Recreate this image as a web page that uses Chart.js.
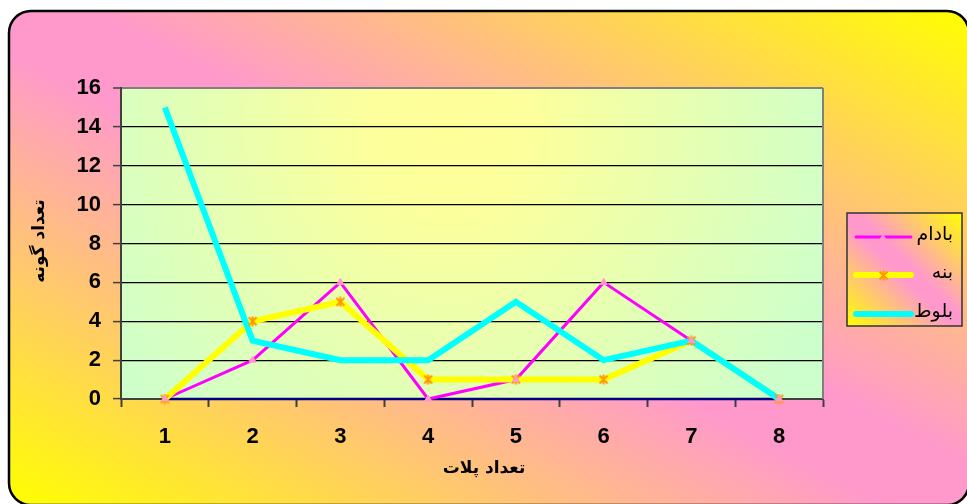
<!DOCTYPE html>
<html>
<head>
<meta charset="utf-8">
<script src="https://cdn.jsdelivr.net/npm/chart.js@4.4.1/dist/chart.umd.min.js"></script>
<style>
  body { margin: 0; background: #fff; }
  canvas { display: block; }
</style>
</head>
<body>
<canvas id="chart" width="967" height="504"></canvas>
<script>
// داده‌ها
const categories = ['1', '2', '3', '4', '5', '6', '7', '8'];
const badam = [0, 2, 6, 0, 1, 6, 3, 0];
const baneh = [0, 4, 5, 1, 1, 1, 3, 0];
const balut = [15, 3, 2, 2, 5, 2, 3, 0];
const baseline = [0, 0, 0, 0, 0, 0, 0, 0];
const seriesNames = ['بادام', 'بنه', 'بلوط'];
const yMin = 0, yMax = 16, yStep = 2;
const xTitle = 'تعداد پلات';
const yTitle = 'تعداد گونه';

const PINK = '#FF99CC', YELLOW = '#FFFF00';

// star marker like Excel (X + vertical bar)
function makeStar() {
    const c = document.createElement('canvas');
    c.width = 11; c.height = 11;
    const g = c.getContext('2d');
    g.strokeStyle = '#FF9900';
    g.lineWidth = 2;
    g.beginPath();
    g.moveTo(1.5, 1.5); g.lineTo(9.5, 9.5);
    g.moveTo(9.5, 1.5); g.lineTo(1.5, 9.5);
    g.moveTo(5.5, 0.5); g.lineTo(5.5, 10.5);
    g.stroke();
    return c;
}
const starImg = makeStar();

function roundRect(ctx, x, y, w, h, r) {
    ctx.beginPath();
    ctx.moveTo(x + r, y);
    ctx.lineTo(x + w - r, y);
    ctx.arcTo(x + w, y, x + w, y + r, r);
    ctx.lineTo(x + w, y + h - r);
    ctx.arcTo(x + w, y + h, x + w - r, y + h, r);
    ctx.lineTo(x + r, y + h);
    ctx.arcTo(x, y + h, x, y + h - r, r);
    ctx.lineTo(x, y + r);
    ctx.arcTo(x, y, x + r, y, r);
    ctx.closePath();
}

// diagonal gradient: yellow corners (bottom-left, top-right), pink along the other diagonal
function fillDiagonal(ctx, x, y, w, h) {
    ctx.save();
    ctx.translate(x, y);
    ctx.scale(w, h);
    const g = ctx.createLinearGradient(0, 1, 1, 0);
    g.addColorStop(0, YELLOW);
    g.addColorStop(0.46, PINK);
    g.addColorStop(0.54, PINK);
    g.addColorStop(1, YELLOW);
    ctx.fillStyle = g;
    ctx.fill();
    ctx.restore();
}

const decor = {
    id: 'decor',
    beforeDraw(chart) {
        const ctx = chart.ctx;
        const a = chart.chartArea;
        ctx.save();
        ctx.fillStyle = '#fff';
        ctx.fillRect(0, 0, chart.width, chart.height);
        // fondo principal
        roundRect(ctx, 9, 11, 960, 494, 22);
        fillDiagonal(ctx, 9, 11, 960, 494);
        ctx.lineWidth = 2.5;
        ctx.strokeStyle = '#000';
        ctx.stroke();
        // fondo del área del gráfico
        const rg = ctx.createRadialGradient(450, 130, 0, 450, 130, 420);
        rg.addColorStop(0, '#FFFF99');
        rg.addColorStop(0.2, '#FCFF9C');
        rg.addColorStop(1, '#CCFFCC');
        ctx.fillStyle = rg;
        ctx.fillRect(a.left, a.top, a.right - a.left, a.bottom - a.top);
        ctx.restore();
    },
    beforeDatasetsDraw(chart) {
        const ctx = chart.ctx;
        const a = chart.chartArea;
        ctx.save();
        ctx.strokeStyle = '#808080';
        ctx.lineWidth = 2;
        ctx.beginPath();
        ctx.moveTo(a.right, a.top);
        ctx.lineTo(a.right, a.bottom);
        ctx.stroke();
        ctx.restore();
    },
    afterDraw(chart) {
        const ctx = chart.ctx;
        ctx.save();
        ctx.fillStyle = '#000';
        ctx.direction = 'rtl';
        ctx.textAlign = 'center';
        ctx.textBaseline = 'middle';
        ctx.font = 'bold 17px "DejaVu Sans", sans-serif';
        ctx.fillText(xTitle, 484, 469);
        ctx.save();
        ctx.translate(40, 241);
        ctx.rotate(-Math.PI / 2);
        ctx.fillText(yTitle, 0, 0);
        ctx.restore();

        // leyenda
        const lx = 847, ly = 213, lw = 115, lh = 113;
        ctx.beginPath();
        ctx.rect(lx, ly, lw, lh);
        fillDiagonal(ctx, lx, ly, lw, lh);
        ctx.lineWidth = 1.5;
        ctx.strokeStyle = '#333';
        ctx.stroke();

        const rows = [237, 275, 314];
        const styles = [
            { color: '#FF00FF', width: 3 },
            { color: '#FFFF00', width: 6 },
            { color: '#00FFFF', width: 6 }
        ];
        ctx.font = '19px "DejaVu Sans", sans-serif';
        ctx.textAlign = 'right';
        rows.forEach((y, i) => {
            ctx.beginPath();
            ctx.strokeStyle = styles[i].color;
            ctx.lineWidth = styles[i].width;
            ctx.lineCap = 'round';
            ctx.moveTo(856, y);
            ctx.lineTo(911, y);
            ctx.stroke();
            ctx.fillStyle = '#000';
            ctx.fillText(seriesNames[i], 953, y - 2);
        });
        // marcadores de la leyenda
        ctx.fillStyle = PINK;
        ctx.beginPath();
        ctx.moveTo(883, rows[0] - 3);
        ctx.lineTo(887, rows[0] + 3);
        ctx.lineTo(879, rows[0] + 3);
        ctx.closePath();
        ctx.fill();
        ctx.drawImage(starImg, 878, rows[1] - 5);
        ctx.restore();
    }
};

const ctx = document.getElementById('chart').getContext('2d');
new Chart(ctx, {
    type: 'line',
    data: {
        labels: categories,
        datasets: [
            {
                label: 'markers ' + seriesNames[0],
                data: badam,
                showLine: false,
                pointStyle: 'triangle',
                pointRadius: 4,
                pointBackgroundColor: PINK,
                pointBorderColor: PINK,
                pointBorderWidth: 1,
                order: 0,
                clip: false
            },
            {
                label: 'markers ' + seriesNames[1],
                data: baneh,
                showLine: false,
                pointStyle: starImg,
                order: 0,
                clip: false
            },
            {
                label: seriesNames[2],
                data: balut,
                borderColor: '#00FFFF',
                borderWidth: 6,
                pointRadius: 0,
                order: 1,
                clip: false
            },
            {
                label: seriesNames[1],
                data: baneh,
                borderColor: '#FFFF00',
                borderWidth: 6,
                pointRadius: 0,
                order: 2,
                clip: false
            },
            {
                label: seriesNames[0],
                data: badam,
                borderColor: '#FF00FF',
                borderWidth: 3,
                pointRadius: 0,
                order: 3,
                clip: false
            },
            {
                label: 'base',
                data: baseline,
                borderColor: '#000080',
                borderWidth: 2.5,
                pointRadius: 0,
                order: 4,
                clip: false
            }
        ]
    },
    options: {
        responsive: false,
        animation: false,
        devicePixelRatio: 1,
        layout: { padding: { left: 0, top: 88, right: 144, bottom: 0 } },
        plugins: {
            legend: { display: false },
            tooltip: { enabled: false }
        },
        scales: {
            x: {
                offset: true,
                afterFit: s => { s.height = 105; },
                grid: {
                    drawOnChartArea: false,
                    offset: true,
                    tickLength: 8,
                    tickColor: '#404040',
                    tickWidth: 2
                },
                border: { color: '#404040', width: 2 },
                ticks: { color: '#000', font: { family: '"Liberation Sans", Arial', size: 22, weight: 'bold' }, padding: 17 }
            },
            y: {
                min: yMin,
                max: yMax,
                afterFit: s => { s.width = 121; },
                grid: {
                    color: c => c.tick.value === yMax ? '#808080' : (c.tick.value === yMin ? 'rgba(0,0,0,0)' : '#000'),
                    lineWidth: c => c.tick.value === yMax ? 2 : 1.2,
                    tickLength: 8,
                    tickColor: '#404040',
                    tickWidth: 1.5
                },
                border: { color: '#404040', width: 2 },
                ticks: {
                    stepSize: yStep,
                    color: '#000',
                    padding: 12,
                    font: { family: '"Liberation Sans", Arial', size: 22, weight: 'bold' }
                }
            }
        }
    },
    plugins: [decor]
});
</script>
</body>
</html>
